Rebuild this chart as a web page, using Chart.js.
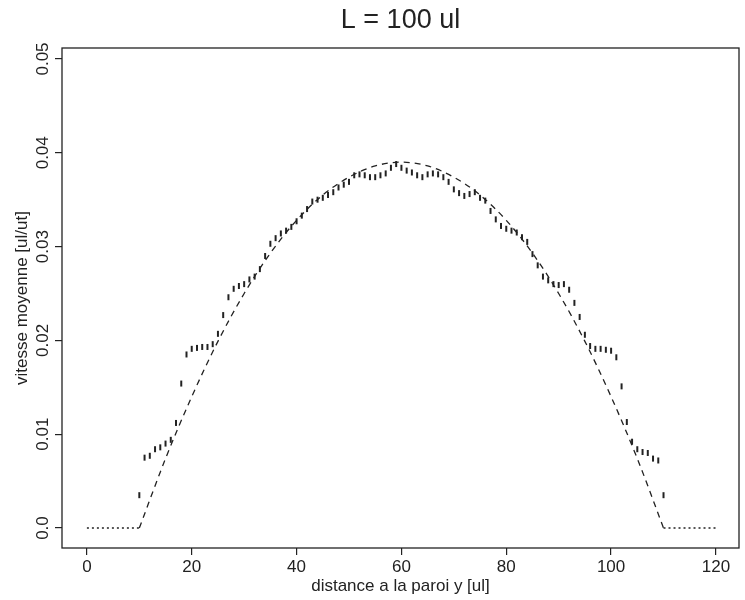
<!DOCTYPE html>
<html>
<head>
<meta charset="utf-8">
<script src="https://cdn.jsdelivr.net/npm/chart.js@4.4.1/dist/chart.umd.min.js"></script>
<style>
  html, body { margin: 0; padding: 0; background: #fff; }
  #wrap { position: relative; width: 745px; height: 600px; }
</style>
</head>
<body>
<div id="wrap"><canvas id="chart"></canvas></div>
<script>
// ─── Data ───────────────────────────────────────────────────────────────────

const TITLE = 'L = 100 ul';
const X_TITLE = 'distance a la paroi y [ul]';
const Y_TITLE = 'vitesse moyenne [ul/ut]';

const xTicks = [0, 20, 40, 60, 80, 100, 120];
const yTicks = [0, 0.01, 0.02, 0.03, 0.04, 0.05];
const yTickLabels = ['0.0', '0.01', '0.02', '0.03', '0.04', '0.05'];

// measured mean velocity at each lattice row
const rowY = [
  10, 11, 12, 13, 14, 15, 16, 17, 18, 19,
  20, 21, 22, 23, 24, 25, 26, 27, 28, 29,
  30, 31, 32, 33, 34, 35, 36, 37, 38, 39,
  40, 41, 42, 43, 44, 45, 46, 47, 48, 49,
  50, 51, 52, 53, 54, 55, 56, 57, 58, 59,
  60, 61, 62, 63, 64, 65, 66, 67, 68, 69,
  70, 71, 72, 73, 74, 75, 76, 77, 78, 79,
  80, 81, 82, 83, 84, 85, 86, 87, 88, 89,
  90, 91, 92, 93, 94, 95, 96, 97, 98, 99,
  100, 101, 102, 103, 104, 105, 106, 107, 108, 109,
  110,
];
const rowVelocity = [
  0.0035, 0.0075, 0.0077, 0.0084, 0.0086, 0.0090, 0.0094, 0.0112, 0.0154, 0.0185,
  0.0191, 0.0192, 0.0193, 0.0193, 0.0196, 0.0207, 0.0227, 0.0246, 0.0255, 0.0258,
  0.0260, 0.0265, 0.0268, 0.0276, 0.0290, 0.0303, 0.0309, 0.0314, 0.0317, 0.0321,
  0.0327, 0.0333, 0.0340, 0.0348, 0.0350, 0.0352, 0.0355, 0.0358, 0.0363, 0.0366,
  0.0369, 0.0376, 0.0377, 0.0376, 0.0374, 0.0374, 0.0376, 0.0378, 0.0384, 0.0388,
  0.0384, 0.0381, 0.0379, 0.0376, 0.0374, 0.0377, 0.0378, 0.0377, 0.0374, 0.0369,
  0.0361, 0.0357, 0.0354, 0.0356, 0.0358, 0.0352, 0.0349, 0.0338, 0.0329, 0.0322,
  0.0319, 0.0317, 0.0315, 0.0310, 0.0305, 0.0292, 0.0280, 0.0268, 0.0264, 0.0260,
  0.0259, 0.0260, 0.0254, 0.0240, 0.0225, 0.0206, 0.0194, 0.0191, 0.0191, 0.0190,
  0.0189, 0.0182, 0.0151, 0.0113, 0.0092, 0.0084, 0.0081, 0.0080, 0.0074, 0.0072,
  0.0035,
];

// theoretical profile (dashed)
const fitY = [10, 15, 20, 25, 30, 35, 40, 45, 50, 55, 60, 65, 70, 75, 80, 85, 90, 95, 100, 105, 110];
const fitVelocity = [
  0, 0.0074, 0.0140, 0.0199, 0.0250, 0.0293, 0.0328, 0.0355, 0.0374, 0.0386,
  0.0390, 0.0386, 0.0374, 0.0355, 0.0328, 0.0293, 0.0250, 0.0199, 0.0140, 0.0074, 0,
];

// walls (dotted, zero velocity)
const wallLeftY = [0, 10];
const wallRightY = [110, 120];
const wallVelocity = [0, 0];

// ─── Style ──────────────────────────────────────────────────────────────────

const INK = '#222';
const FONT = '"Liberation Sans", Arial, sans-serif';

const toPoints = (xs, ys) => xs.map((x, i) => ({ x, y: ys[i] }));

// frame, rotated y labels and centred title, like the R original
const framePlugin = {
  id: 'frame',
  afterDraw(chart) {
    const { ctx, chartArea: a, scales } = chart;
    ctx.save();
    ctx.strokeStyle = INK;
    ctx.lineWidth = 1.3;
    ctx.strokeRect(a.left, a.top, a.right - a.left, a.bottom - a.top);

    ctx.fillStyle = INK;
    ctx.textAlign = 'center';
    ctx.textBaseline = 'middle';
    ctx.font = `17px ${FONT}`;
    yTicks.forEach((v, i) => {
      ctx.save();
      ctx.translate(a.left - 19, scales.y.getPixelForValue(v));
      ctx.rotate(-Math.PI / 2);
      ctx.fillText(yTickLabels[i], 0, 0);
      ctx.restore();
    });

    ctx.font = `27px ${FONT}`;
    ctx.fillText(TITLE, (a.left + a.right) / 2, 21);
    ctx.restore();
  },
};

new Chart(document.getElementById('chart'), {
  type: 'scatter',
  data: {
    datasets: [
      {
        data: toPoints(wallLeftY, wallVelocity),
        showLine: true,
        borderColor: INK,
        borderWidth: 1.3,
        borderDash: [2, 3],
        pointRadius: 0,
      },
      {
        data: toPoints(wallRightY, wallVelocity),
        showLine: true,
        borderColor: INK,
        borderWidth: 1.3,
        borderDash: [2, 3],
        pointRadius: 0,
      },
      {
        data: toPoints(fitY, fitVelocity),
        showLine: true,
        borderColor: INK,
        borderWidth: 1.3,
        borderDash: [6, 5],
        cubicInterpolationMode: 'monotone',
        pointRadius: 0,
      },
      {
        data: toPoints(rowY, rowVelocity),
        pointStyle: 'line',
        rotation: 90,
        pointRadius: 3,
        borderWidth: 2,
        borderColor: INK,
        backgroundColor: INK,
      },
    ],
  },
  options: {
    responsive: true,
    maintainAspectRatio: false,
    animation: false,
    layout: { padding: { left: 0, right: 3, top: 48, bottom: 0 } },
    plugins: {
      legend: { display: false },
      title: { display: false },
      tooltip: { enabled: false },
    },
    scales: {
      x: {
        type: 'linear',
        min: -4.75,
        max: 124.4,
        afterBuildTicks: s => { s.ticks = xTicks.map(value => ({ value })); },
        afterFit: s => { s.height = 52; },
        grid: { drawOnChartArea: false, drawTicks: true, tickLength: 7, color: INK, lineWidth: 1.2 },
        border: { display: false },
        ticks: { color: INK, font: { family: FONT, size: 17 }, padding: 2, maxRotation: 0 },
        title: {
          display: true,
          text: X_TITLE,
          color: INK,
          font: { family: FONT, size: 17 },
          padding: { top: 0, bottom: 3 },
        },
      },
      y: {
        type: 'linear',
        min: -0.00213,
        max: 0.05117,
        afterBuildTicks: s => { s.ticks = yTicks.map(value => ({ value })); },
        afterFit: s => { s.width = 62; },
        grid: { drawOnChartArea: false, drawTicks: true, tickLength: 7, color: INK, lineWidth: 1.2 },
        border: { display: false },
        ticks: { display: false },
        title: {
          display: true,
          text: Y_TITLE,
          color: INK,
          font: { family: FONT, size: 17 },
          padding: { top: 12, bottom: 0 },
        },
      },
    },
  },
  plugins: [framePlugin],
});
</script>
</body>
</html>
